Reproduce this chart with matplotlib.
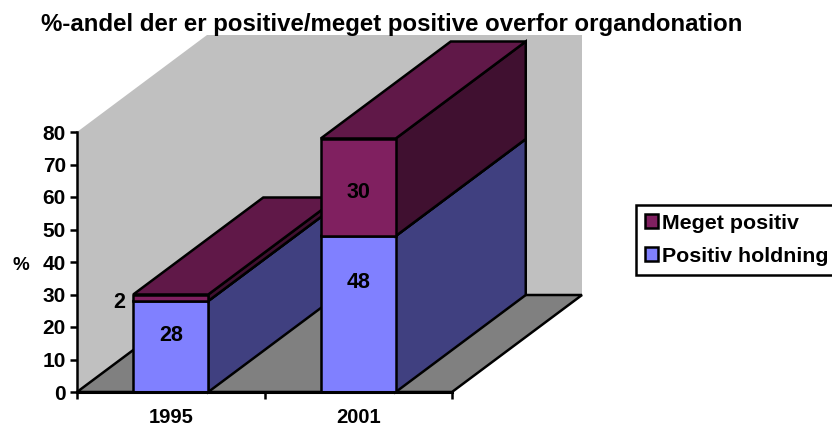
import matplotlib
matplotlib.use("Agg")
import matplotlib.pyplot as plt
from matplotlib.patches import Polygon, Patch
from matplotlib.transforms import ScaledTranslation

plt.rcParams['font.family'] = ['Liberation Sans', 'DejaVu Sans']
plt.rcParams['font.weight'] = 'bold'

title = "%-andel der er positive/meget positive overfor organdonation"
years = ["1995", "2001"]
positiv = [28, 48]
meget = [2, 30]
series_names = ["Meget positiv", "Positiv holdning"]
yticks = [0, 10, 20, 30, 40, 50, 60, 70, 80]

W, H = 832, 428
fig = plt.figure(figsize=(W / 100, H / 100), dpi=100)
ax = fig.add_axes([77 / W, 1 - 392 / H, (452 - 77) / W, (392 - 132) / H])
ax.set_xlim(0, 2)
ax.set_ylim(0, 80)
ax.patch.set_visible(False)

# oblique depth offset, in data units
DX = 130 / 187.5
DY = 97 / 3.25
LW = 1.8
BAR = 0.4
# heights of the data labels inside each segment (fraction of the segment)
POS_FRAC = [0.625, 0.70]
MEG_FRAC = [0.5, 0.45]


def P(x, y, d):
    return (x + d * DX, y + d * DY)


def face(points, color, z, edge='black'):
    ax.add_patch(Polygon([P(*p) for p in points], closed=True, facecolor=color,
                         edgecolor=edge, linewidth=LW if edge != 'none' else 0,
                         joinstyle='miter', clip_on=False, zorder=z))


# walls and floor
face([(0, 0, 0), (0, 80, 0), (0, 80, 1), (0, 0, 1)], '#C0C0C0', 1, 'none')
face([(0, 0, 1), (0, 80, 1), (2, 80, 1), (2, 0, 1)], '#C0C0C0', 1, 'none')
face([(0, 0, 0), (2, 0, 0), (2, 0, 1), (0, 0, 1)], '#808080', 1.5)

styles = [('#8080FF', '#404080', '#404080'), ('#802060', '#401030', '#601848')]


def box(x0, y0, y1, colors, z):
    x1 = x0 + BAR
    front, side, top = colors
    face([(x1, y0, 0), (x1, y1, 0), (x1, y1, 1), (x1, y0, 1)], side, z)
    face([(x0, y1, 0), (x1, y1, 0), (x1, y1, 1), (x0, y1, 1)], top, z + 0.1)
    face([(x0, y0, 0), (x1, y0, 0), (x1, y1, 0), (x0, y1, 0)], front, z + 0.2)


for i in range(len(years)):
    x0 = i + 0.5 - BAR / 2
    z = 2 + i * 2
    box(x0, 0, positiv[i], styles[0], z)
    box(x0, positiv[i], positiv[i] + meget[i], styles[1], z + 0.5)

# data labels
fs = 15
dfs = 15.5
for i in range(len(years)):
    ax.text(i + 0.5, positiv[i] * POS_FRAC[i], str(positiv[i]), ha='center', va='center',
            fontsize=dfs, zorder=10)
    if meget[i] > 5:
        ax.text(i + 0.5, positiv[i] + meget[i] * MEG_FRAC[i], str(meget[i]), ha='center',
                va='center', fontsize=dfs, zorder=10)
    else:
        ax.text(i + 0.5 - BAR / 2 - 0.04, positiv[i] + meget[i] * MEG_FRAC[i] - 1.5,
                str(meget[i]), ha='right', va='center', fontsize=dfs, zorder=10)

# axes
for s in ('top', 'right'):
    ax.spines[s].set_visible(False)
for s in ('left', 'bottom'):
    ax.spines[s].set_linewidth(LW)
    ax.spines[s].set_zorder(9)
ax.spines['bottom'].set_linewidth(2.2)
ax.set_yticks(yticks)
ax.set_yticklabels([str(v) for v in yticks], fontsize=fs)
shift = ScaledTranslation(0, -3 / 72 * 0.72, fig.dpi_scale_trans)
for lab in ax.get_yticklabels():
    lab.set_transform(lab.get_transform() + shift)
ax.set_xticks([0, 1, 2])
ax.set_xticklabels([])
ax.set_xticks([0.5, 1.5], minor=True)
ax.set_xticklabels(years, minor=True, fontsize=14.5)
ax.tick_params(axis='y', length=5, width=LW, pad=3)
ax.tick_params(axis='x', which='major', length=5, width=LW)
ax.tick_params(axis='x', which='minor', length=0, pad=11.5)
fig.text(21 / W, 1 - 266 / H, '%', ha='center', va='center', fontsize=13.5, fontweight='bold')

fig.text(392 / W, 1 - 24 / H, title, ha='center', va='center', fontsize=17.3,
         fontweight='bold')

handles = [Patch(facecolor=styles[1][0], edgecolor='black', linewidth=LW, label=series_names[0]),
           Patch(facecolor=styles[0][0], edgecolor='black', linewidth=LW, label=series_names[1])]
leg = fig.legend(handles=handles, loc='upper left',
                 bbox_to_anchor=(636 / W, 1 - 205 / H), bbox_transform=fig.transFigure,
                 fancybox=False, framealpha=1, edgecolor='black', fontsize=15.4,
                 handlelength=0.62, handleheight=0.62, handletextpad=0.2,
                 borderpad=0.41, borderaxespad=0, labelspacing=0.66)
leg.get_frame().set_linewidth(LW)

fig.savefig("out.png", dpi=100)
